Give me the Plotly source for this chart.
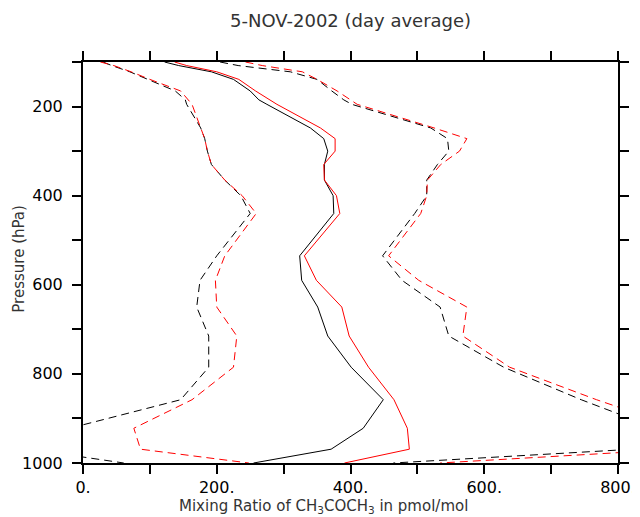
import plotly.graph_objects as go

# pressure levels (hPa) of the profile vertices
pressure = [100, 108, 122, 139, 165, 185, 195, 248, 272, 300, 330, 365,
            400, 440, 535, 590, 650, 715, 785, 858, 922, 969, 1000]

# black profile: mean and the two dashed envelope curves
black_mean = [122, 143, 192, 225, 250, 263, 275, 340, 360, 366, 361, 361,
              374, 375, 324, 327, 351, 366, 401, 449, 419, 371, 255]
black_low = [30, 43, 70, 98, 138, 153, 155, 176, 182, 186, 192, 212,
             236, 250, 200, 175, 170, 188, 188, 146, -20, -80, 61]
black_high = [205, 232, 310, 350, 372, 390, 402, 520, 545, 547, 530, 514,
              514, 496, 448, 477, 534, 547, 629, 745, 857, 823, 464]

# red profile
red_mean = [137, 155, 200, 233, 258, 280, 290, 355, 377, 377, 360, 361,
            379, 384, 331, 349, 387, 398, 427, 465, 485, 488, 391]
red_low = [26, 46, 72, 100, 146, 157, 163, 176, 182, 186, 192, 212,
           238, 259, 212, 198, 200, 230, 225, 163, 76, 86, 248]
red_high = [243, 268, 328, 350, 380, 400, 410, 525, 574, 563, 535, 515,
            514, 505, 457, 502, 574, 568, 638, 768, 894, 890, 534]

x_ticks = [0, 200, 400, 600, 800]
x_text = ["0.", "200.", "400.", "600.", "800."]
y_ticks = [200, 400, 600, 800, 1000]
y_text = ["200", "400", "600", "800", "1000"]

DASH = "8px,5px"

fig = go.Figure()


def add_line(xs, color, dash=None):
    fig.add_trace(go.Scatter(
        x=xs, y=pressure, mode="lines",
        line=dict(color=color, width=1, dash=dash),
        showlegend=False, hoverinfo="skip",
    ))


add_line(black_low, "black", DASH)
add_line(black_high, "black", DASH)
add_line(red_low, "#ff0000", DASH)
add_line(red_high, "#ff0000", DASH)
add_line(black_mean, "black")
add_line(red_mean, "#ff0000")

axis_common = dict(
    showline=True, linecolor="black", linewidth=2,
    mirror="ticks", ticks="outside", ticklen=9, tickwidth=1.5,
    tickcolor="black", showgrid=False, zeroline=False, automargin=False,
    tickfont=dict(family="DejaVu Sans", size=16, color="black"),
    minor=dict(ticks="outside", ticklen=9, tickwidth=1.5, tickcolor="black",
               dtick=100, showgrid=False),
)

# the page body has an 8px margin, so the figure is 8px smaller than the window
fig.update_layout(
    width=632, height=509,
    margin=dict(l=75, r=22, t=54, b=54),
    plot_bgcolor="white", paper_bgcolor="white",
    xaxis=dict(range=[0, 800], tickmode="array", tickvals=x_ticks,
               ticktext=x_text, ticklabelstandoff=0, **axis_common),
    yaxis=dict(range=[1000, 100], tickmode="array", tickvals=y_ticks,
               ticktext=y_text, ticklabelstandoff=6, **axis_common),
    annotations=[
        dict(text="5-NOV-2002 (day average)", xref="paper", yref="paper",
             x=0.5, y=1.103, xanchor="center", yanchor="middle",
             showarrow=False,
             font=dict(family="DejaVu Sans", size=18, color="#333333")),
        dict(text="Mixing Ratio of CH<sub>3</sub>COCH<sub>3</sub> in pmol/mol",
             xref="paper", yref="paper", x=0.176, y=-0.108,
             xanchor="left", yanchor="middle", showarrow=False,
             font=dict(family="DejaVu Sans", size=15, color="#333333")),
        dict(text="Pressure (hPa)", xref="paper", yref="paper",
             x=-0.12, y=0.509, xanchor="center", yanchor="middle",
             textangle=-90, showarrow=False,
             font=dict(family="DejaVu Sans", size=15, color="#333333")),
    ],
)

fig.write_html("out.html")
